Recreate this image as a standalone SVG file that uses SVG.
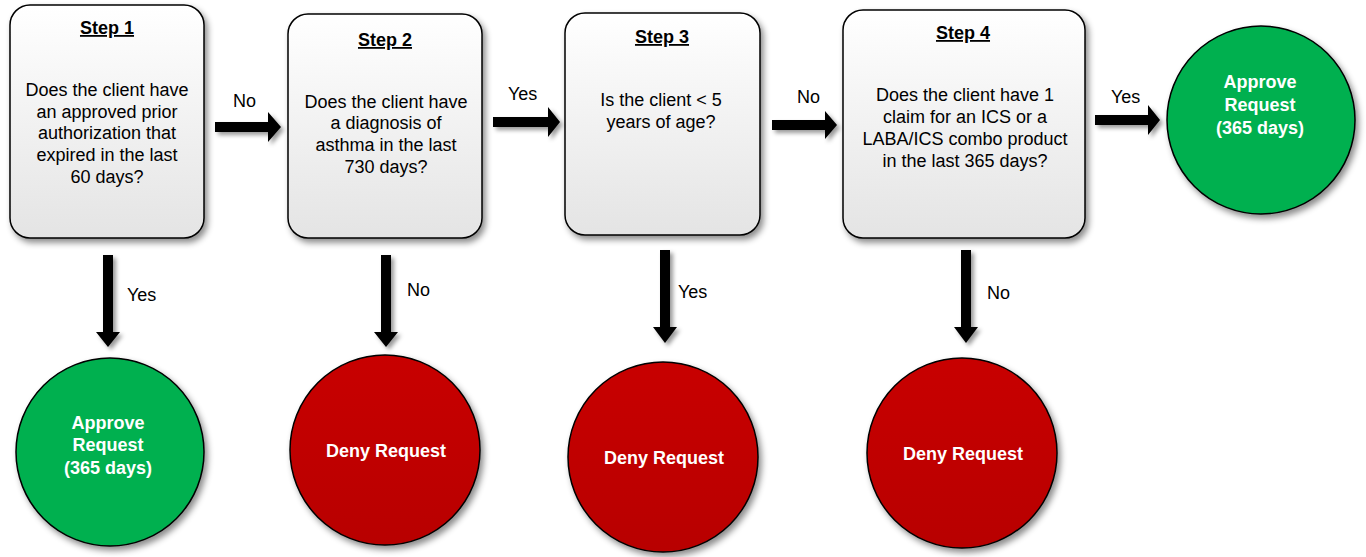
<svg xmlns="http://www.w3.org/2000/svg" width="1366" height="557" viewBox="0 0 1366 557">
<defs>
<linearGradient id="boxg" x1="0" y1="0" x2="0" y2="1">
<stop offset="0" stop-color="#ffffff"/>
<stop offset="1" stop-color="#e4e4e4"/>
</linearGradient>
<linearGradient id="redg" x1="0" y1="0" x2="0" y2="1">
<stop offset="0" stop-color="#c80000"/>
<stop offset="1" stop-color="#b80000"/>
</linearGradient>
<filter id="sh" x="-20%" y="-20%" width="140%" height="140%">
<feDropShadow dx="3" dy="4" stdDeviation="3" flood-color="#000" flood-opacity="0.45"/>
</filter>
<filter id="ash" x="-30%" y="-30%" width="160%" height="160%">
<feDropShadow dx="3" dy="3" stdDeviation="2" flood-color="#000" flood-opacity="0.4"/>
</filter>
</defs>
<style>
.box{fill:url(#boxg);stroke:#000;stroke-width:1.5;filter:url(#sh)}
.green{fill:#00b050;stroke:#000;stroke-width:1.5;filter:url(#sh)}
.red{fill:url(#redg);stroke:#000;stroke-width:1.5;filter:url(#sh)}
.t{font-family:"Liberation Sans",Arial,sans-serif;font-size:18px;fill:#000;text-anchor:middle}
.h{font-family:"Liberation Sans",Arial,sans-serif;font-size:18px;font-weight:bold;fill:#000;text-anchor:middle;text-decoration:underline}
.w{font-family:"Liberation Sans",Arial,sans-serif;font-size:18px;font-weight:bold;fill:#fff;text-anchor:middle}
.lbl{font-family:"Liberation Sans",Arial,sans-serif;font-size:18px;fill:#000}
.arr{fill:#000;filter:url(#ash)}
</style>
<rect width="1366" height="557" fill="#fff"/>

<g id="step1">
<rect class="box" x="10" y="5" width="194" height="233" rx="20"/>
<text class="h" x="107" y="34">Step 1</text>
<text class="t" x="107" y="96">Does the client have</text>
<text class="t" x="107" y="118">an approved prior</text>
<text class="t" x="107" y="139">authorization that</text>
<text class="t" x="107" y="161">expired in the last</text>
<text class="t" x="107" y="183">60 days?</text>
</g>

<g id="step2">
<rect class="box" x="288" y="14" width="194" height="224" rx="20"/>
<text class="h" x="385" y="46">Step 2</text>
<text class="t" x="386" y="108">Does the client have</text>
<text class="t" x="386" y="129">a diagnosis of</text>
<text class="t" x="386" y="151">asthma in the last</text>
<text class="t" x="386" y="173">730 days?</text>
</g>

<g id="step3">
<rect class="box" x="565" y="13" width="195" height="222" rx="20"/>
<text class="h" x="662" y="43">Step 3</text>
<text class="t" x="661" y="106">Is the client &lt; 5</text>
<text class="t" x="661" y="128">years of age?</text>
</g>

<g id="step4">
<rect class="box" x="843" y="10" width="242" height="228" rx="20"/>
<text class="h" x="963" y="39">Step 4</text>
<text class="t" x="965" y="101">Does the client have 1</text>
<text class="t" x="965" y="123">claim for an ICS or a</text>
<text class="t" x="965" y="145">LABA/ICS combo product</text>
<text class="t" x="965" y="167">in the last 365 days?</text>
</g>

<g id="approve-top">
<circle class="green" cx="1261" cy="120" r="94"/>
<text class="w" x="1260" y="88">Approve</text>
<text class="w" x="1260" y="111">Request</text>
<text class="w" x="1260" y="134">(365 days)</text>
</g>

<g id="approve-bottom">
<circle class="green" cx="110" cy="452" r="94"/>
<text class="w" x="108" y="429">Approve</text>
<text class="w" x="108" y="451">Request</text>
<text class="w" x="108" y="474">(365 days)</text>
</g>

<g id="deny2">
<circle class="red" cx="385" cy="450" r="95"/>
<text class="w" x="386" y="457">Deny Request</text>
</g>

<g id="deny3">
<circle class="red" cx="663" cy="457" r="95"/>
<text class="w" x="664" y="464">Deny Request</text>
</g>

<g id="deny4">
<circle class="red" cx="962" cy="453" r="95"/>
<text class="w" x="963" y="460">Deny Request</text>
</g>

<g id="connectors">
<polygon class="arr" points="215,122 268,122 268,112 281,127 268,142 268,132 215,132"/>
<polygon class="arr" points="493,117 548,117 548,107 560,122 548,137 548,127 493,127"/>
<polygon class="arr" points="772,120 825,120 825,111 837,125 825,139 825,130 772,130"/>
<polygon class="arr" points="1095,115 1148,115 1148,105 1160,120 1148,135 1148,125 1095,125"/>
<polygon class="arr" points="103,255 113,255 113,332 120,332 108,347 96,332 103,332"/>
<polygon class="arr" points="381,255 391,255 391,332 398,332 386,347 374,332 381,332"/>
<polygon class="arr" points="660,250 670,250 670,327 677,327 665,343 653,327 660,327"/>
<polygon class="arr" points="961,250 971,250 971,327 978,327 966,343 954,327 961,327"/>
<text class="lbl" x="233" y="107">No</text>
<text class="lbl" x="508" y="100">Yes</text>
<text class="lbl" x="797" y="103">No</text>
<text class="lbl" x="1111" y="103">Yes</text>
<text class="lbl" x="127" y="301">Yes</text>
<text class="lbl" x="407" y="296">No</text>
<text class="lbl" x="678" y="298">Yes</text>
<text class="lbl" x="987" y="299">No</text>
</g>
</svg>
